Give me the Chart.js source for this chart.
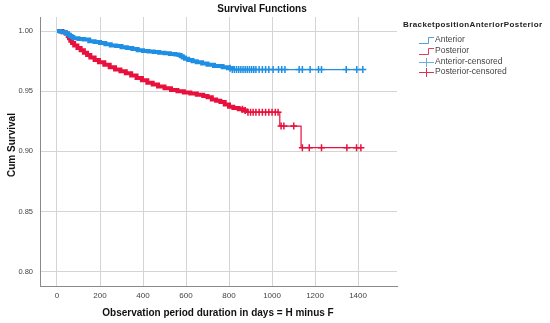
<!DOCTYPE html>
<html>
<head>
<meta charset="utf-8">
<script src="https://cdn.jsdelivr.net/npm/chart.js@4.4.1/dist/chart.umd.min.js"></script>
<style>
  body { margin: 0; background: #fff; }
  canvas { display: block; }
</style>
</head>
<body>
<canvas id="kmChart" width="550" height="323"></canvas>
<script>
// Kaplan-Meier curves (days, cumulative survival)
var antTimes = [0, 15, 30, 42, 52, 60, 68, 76, 100, 125, 150, 175, 200, 225, 250, 275, 300, 325, 350, 375, 400, 425, 450, 475, 500, 525, 550, 565, 575, 585, 595, 610, 630, 650, 675, 700, 730, 770, 795, 815, 1422];
var antSurv  = [1.000, 0.9995, 0.999, 0.998, 0.997, 0.996, 0.995, 0.994, 0.9935, 0.993, 0.9915, 0.991, 0.990, 0.989, 0.988, 0.9875, 0.9865, 0.986, 0.985, 0.984, 0.9835, 0.983, 0.9825, 0.982, 0.9815, 0.981, 0.9805, 0.980, 0.979, 0.978, 0.977, 0.976, 0.975, 0.974, 0.973, 0.972, 0.971, 0.970, 0.969, 0.968, 0.968];

var postTimes = [0, 25, 40, 50, 56, 62, 70, 80, 95, 110, 125, 140, 155, 175, 195, 220, 245, 270, 295, 320, 345, 370, 395, 420, 445, 470, 500, 530, 560, 590, 620, 650, 680, 700, 720, 740, 760, 780, 800, 820, 845, 865, 880, 1036, 1135, 1420];
var postSurv  = [1.000, 0.999, 0.998, 0.996, 0.994, 0.992, 0.990, 0.988, 0.986, 0.984, 0.982, 0.980, 0.978, 0.976, 0.974, 0.972, 0.970, 0.968, 0.9665, 0.965, 0.963, 0.961, 0.959, 0.957, 0.9555, 0.954, 0.9525, 0.951, 0.950, 0.949, 0.948, 0.947, 0.946, 0.945, 0.943, 0.942, 0.941, 0.939, 0.937, 0.936, 0.935, 0.934, 0.9325, 0.921, 0.903, 0.903];

// censoring times shown as + marks
var antCensor  = [805, 815, 825, 835, 845, 855, 865, 875, 885, 895, 905, 915, 925, 940, 955, 970, 985, 1005, 1030, 1045, 1060, 1126, 1141, 1177, 1216, 1230, 1345, 1394, 1422];
var postCensor = [862, 875, 888, 900, 912, 925, 940, 955, 970, 985, 1000, 1015, 1028, 1042, 1055, 1101, 1141, 1173, 1230, 1348, 1393, 1413];

var xTicks = [0, 200, 400, 600, 800, 1000, 1200, 1400];
var yTicks = [0.80, 0.85, 0.90, 0.95, 1.00];

var legendLabels = ['Anterior', 'Posterior', 'Anterior-censored', 'Posterior-censored'];

var blue = '#1e8fe3';
var red = '#e8103c';

function toPoints(times, surv) {
    var pts = [];
    for (var i = 0; i < times.length; i++) {
        pts.push({x: times[i], y: surv[i]});
    }
    return pts;
}

// value of the step curve at time t
function stepAt(times, surv, t) {
    var v = surv[0];
    for (var i = 0; i < times.length; i++) {
        if (times[i] <= t) v = surv[i];
    }
    return v;
}

function censorPoints(cens, times, surv) {
    var pts = [];
    for (var i = 0; i < cens.length; i++) {
        pts.push({x: cens[i], y: stepAt(times, surv, cens[i])});
    }
    return pts;
}

var FONT = "'Liberation Sans', Arial, sans-serif";

// title, axis titles and the SPSS style legend
var textPlugin = {
    id: 'textPlugin',
    afterDraw: function (chart) {
        var c = chart.ctx;
        var area = chart.chartArea;
        c.save();
        c.fillStyle = '#111';
        c.textAlign = 'center';
        c.textBaseline = 'middle';
        c.font = 'bold 10px ' + FONT;
        c.fillText('Survival Functions', 262, 9);

        c.font = 'bold 10px ' + FONT;
        c.fillText('Observation period duration in days = H minus F', 218, 313);

        c.save();
        c.translate(12, 145);
        c.rotate(-Math.PI / 2);
        c.font = 'bold 10px ' + FONT;
        c.fillText('Cum Survival', 0, 0);
        c.restore();

        // legend
        c.textAlign = 'left';
        c.font = 'bold 8px ' + FONT;
        c.letterSpacing = '0.4px';
        c.fillStyle = '#222';
        c.fillText('BracketpositionAnteriorPosterior', 403, 25);
        c.letterSpacing = '0px';

        var rowY = [40, 51, 62, 72];
        var colors = ['#4f9fdc', '#e0405e', '#6aaee0', '#e0304f'];
        c.font = '8.5px ' + FONT;
        for (var i = 0; i < legendLabels.length; i++) {
            var y = rowY[i];
            c.strokeStyle = colors[i];
            c.lineWidth = 1;
            c.beginPath();
            if (i < 2) {
                c.moveTo(419, y + 3.5);
                c.lineTo(428.5, y + 3.5);
                c.lineTo(428.5, y - 2.5);
                c.lineTo(434, y - 2.5);
            } else {
                c.moveTo(419, y + 0.5);
                c.lineTo(434, y + 0.5);
                c.moveTo(426.5, y - 4);
                c.lineTo(426.5, y + 5);
            }
            c.stroke();
            c.fillStyle = '#444';
            c.fillText(legendLabels[i], 435, y);
        }
        c.restore();
    }
};

var bgPlugin = {
    id: 'bg',
    beforeDraw: function (chart) {
        var c = chart.ctx;
        c.save();
        c.fillStyle = '#fff';
        c.fillRect(0, 0, chart.width, chart.height);
        c.restore();
    }
};

var ctx = document.getElementById('kmChart').getContext('2d');
var kmChart = new Chart(ctx, {
    type: 'line',
    data: {
        datasets: [{
            label: 'Anterior',
            data: toPoints(antTimes, antSurv),
            borderColor: blue,
            stepped: 'before',
            pointRadius: 0,
            fill: false,
            segment: {
                borderWidth: function (s) { return s.p1.parsed.x <= 815 ? 4 : 1.2; }
            }
        }, {
            label: 'Posterior',
            data: toPoints(postTimes, postSurv),
            borderColor: red,
            stepped: 'before',
            pointRadius: 0,
            fill: false,
            segment: {
                borderWidth: function (s) { return s.p1.parsed.x <= 880 ? 4 : 1.2; }
            }
        }, {
            label: 'Anterior-censored',
            data: censorPoints(antCensor, antTimes, antSurv),
            showLine: false,
            pointStyle: 'cross',
            pointRadius: 3.5,
            pointBorderWidth: 1.5,
            pointBorderColor: blue,
            borderColor: blue
        }, {
            label: 'Posterior-censored',
            data: censorPoints(postCensor, postTimes, postSurv),
            showLine: false,
            pointStyle: 'cross',
            pointRadius: 3.5,
            pointBorderWidth: 1.5,
            pointBorderColor: red,
            borderColor: red
        }]
    },

    options: {
        responsive: false,
        animation: false,
        layout: {padding: {top: 17, right: 153, left: 0, bottom: 0}},
        plugins: {
            legend: {display: false},
            title: {display: false},
            tooltip: {enabled: false}
        },
        scales: {
            x: {
                type: 'linear',
                min: -79,
                max: 1581,
                afterBuildTicks: function (scale) {
                    scale.ticks = xTicks.map(function (v) { return {value: v}; });
                },
                afterFit: function (scale) { scale.height = 37; },
                grid: {color: '#d4d4d4', lineWidth: 1, drawTicks: false},
                border: {color: '#8a8a8a', width: 1},
                ticks: {
                    padding: 5,
                    color: '#444',
                    font: {family: FONT, size: 8},
                    maxRotation: 0,
                    callback: function (v) { return String(v); }
                }
            },
            y: {
                type: 'linear',
                min: 0.788,
                max: 1.0117,
                afterBuildTicks: function (scale) {
                    scale.ticks = yTicks.map(function (v) { return {value: v}; });
                },
                afterFit: function (scale) { scale.width = 40; },
                grid: {color: '#d4d4d4', lineWidth: 1, drawTicks: false},
                border: {color: '#8a8a8a', width: 1},
                ticks: {
                    padding: 7,
                    color: '#444',
                    font: {family: FONT, size: 7.5},
                    callback: function (v) { return Number(v).toFixed(2); }
                }
            }
        }
    },
    plugins: [bgPlugin, textPlugin]
});
</script>
</body>
</html>
